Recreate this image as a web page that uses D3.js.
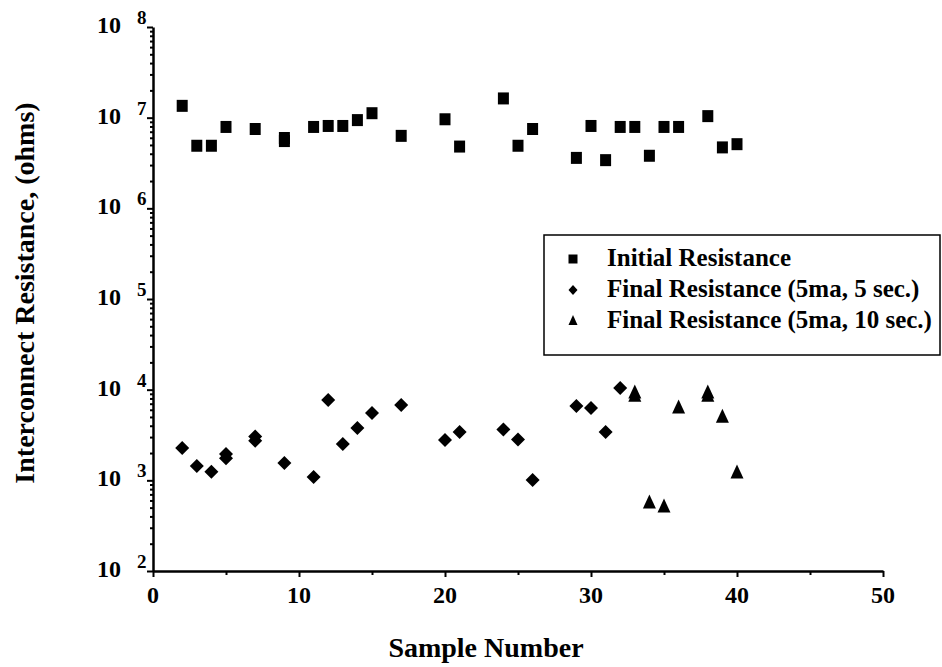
<!DOCTYPE html>
<html>
<head>
<meta charset="utf-8">
<script src="https://cdn.jsdelivr.net/npm/d3@7"></script>
<style>
  body { margin: 0; background: white; }
  text { font-family: "Liberation Serif", "Times New Roman", serif; font-weight: bold; fill: black; }
</style>
</head>
<body>
<div id="canvas"></div>
<script>
// DATA
const initialX = [2, 3, 4, 5, 7, 9, 9, 11, 12, 13, 14, 15, 17, 20, 21, 24, 25, 26, 29, 30, 31, 32, 33, 34, 35, 36, 38, 39, 40];
const initialR = [1.35e7, 4.9e6, 4.9e6, 7.9e6, 7.5e6, 5.97e6, 5.52e6, 7.9e6, 8.1e6, 8.1e6, 9.4e6, 1.12e7, 6.3e6, 9.6e6, 4.8e6, 1.63e7, 4.9e6, 7.5e6, 3.6e6, 8.1e6, 3.4e6, 7.9e6, 7.9e6, 3.8e6, 7.9e6, 7.9e6, 1.04e7, 4.7e6, 5.1e6];

const final5X = [2, 3, 4, 5, 5, 7, 7, 9, 11, 12, 13, 14, 15, 17, 20, 21, 24, 25, 26, 29, 30, 31, 32];
const final5R = [2280, 1440, 1240, 1950, 1750, 3050, 2730, 1550, 1090, 7700, 2520, 3780, 5530, 6780, 2790, 3410, 3640, 2820, 1010, 6610, 6290, 3410, 10400];

const final10X = [33, 33, 34, 35, 36, 38, 38, 39, 40];
const final10R = [9200, 8500, 562, 508, 6290, 9200, 8500, 4990, 1210];

const xTicks = [0, 10, 20, 30, 40, 50];
const xMinorTicks = [5, 15, 25, 35, 45];
const yExponents = [2, 3, 4, 5, 6, 7, 8];
const legendLabels = ["Initial Resistance", "Final Resistance (5ma, 5 sec.)", "Final Resistance (5ma, 10 sec.)"];

// DIMENSIONS
const width = 942;
const height = 667;
const margin = { top: 27, right: 59, bottom: 96, left: 153 };

const svg = d3.select("#canvas")
  .append("svg")
  .attr("width", width)
  .attr("height", height);

// SCALES
const x = d3.scaleLinear().domain([0, 50]).range([margin.left, width - margin.right]);
const y = d3.scaleLog().domain([1e2, 1e8]).range([height - margin.bottom, margin.top]);

// marker shapes
function square(w, h) { return `M${-w/2},${-h/2}h${w}v${h}h${-w}Z`; }
function diamond(w, h) { return `M0,${-h/2}L${w/2},0L0,${h/2}L${-w/2},0Z`; }
function triangle(w, h) { return `M0,${-h*0.6}L${w/2},${h*0.4}L${-w/2},${h*0.4}Z`; }

// AXES
let yMinor = [];
for (let e = 2; e < 8; e++) for (let m = 2; m <= 9; m++) yMinor.push(m * Math.pow(10, e));

svg.append("g")
  .attr("transform", `translate(0,${y(1e2)})`)
  .call(d3.axisBottom(x).tickValues(xTicks).tickSize(6).tickSizeOuter(0).tickFormat(""));
svg.append("g")
  .attr("transform", `translate(0,${y(1e2)})`)
  .call(d3.axisBottom(x).tickValues(xMinorTicks).tickSize(4).tickFormat(""))
  .select(".domain").remove();

svg.append("g")
  .attr("transform", `translate(${x(0)},0)`)
  .call(d3.axisLeft(y).tickValues(yExponents.map(e => Math.pow(10, e))).tickSize(6).tickSizeOuter(0).tickFormat(""));
svg.append("g")
  .attr("transform", `translate(${x(0)},0)`)
  .call(d3.axisLeft(y).tickValues(yMinor).tickSize(3).tickFormat(""))
  .select(".domain").remove();

svg.selectAll(".domain").attr("stroke", "black").attr("stroke-width", 2.5);
svg.selectAll(".tick line").attr("stroke", "black").attr("stroke-width", 2);

// tick labels
svg.selectAll("text.xlabel")
  .data(xTicks)
  .join("text")
  .attr("class", "xlabel")
  .attr("x", d => x(d))
  .attr("y", y(1e2) + 32)
  .attr("text-anchor", "middle")
  .style("font-size", "24px")
  .text(d => d);

const ylab = svg.selectAll("g.ylabel")
  .data(yExponents)
  .join("g")
  .attr("class", "ylabel")
  .attr("transform", d => `translate(0,${y(Math.pow(10, d))})`);
ylab.append("text")
  .attr("x", 121).attr("y", 6)
  .attr("text-anchor", "end")
  .style("font-size", "24px")
  .text("10");
ylab.append("text")
  .attr("x", 137).attr("y", -3)
  .style("font-size", "19px")
  .text(d => d);

// axis titles
svg.append("text")
  .attr("transform", `translate(34,${293}) rotate(-90)`)
  .attr("text-anchor", "middle")
  .style("font-size", "28px")
  .text("Interconnect Resistance, (ohms)");

svg.append("text")
  .attr("x", 486).attr("y", 657)
  .attr("text-anchor", "middle")
  .style("font-size", "28px")
  .text("Sample Number");

// MARKS
const initial = initialX.map((d, i) => ({ x: d, r: initialR[i] }));
const final5 = final5X.map((d, i) => ({ x: d, r: final5R[i] }));
const final10 = final10X.map((d, i) => ({ x: d, r: final10R[i] }));

svg.selectAll("path.initial")
  .data(initial)
  .join("path")
  .attr("class", "initial")
  .attr("d", square(11, 12))
  .attr("transform", d => `translate(${x(d.x)},${y(d.r)})`)
  .style("fill", "black");

svg.selectAll("path.final5")
  .data(final5)
  .join("path")
  .attr("class", "final5")
  .attr("d", diamond(14, 14))
  .attr("transform", d => `translate(${x(d.x)},${y(d.r)})`)
  .style("fill", "black");

svg.selectAll("path.final10")
  .data(final10)
  .join("path")
  .attr("class", "final10")
  .attr("d", triangle(13, 14))
  .attr("transform", d => `translate(${x(d.x)},${y(d.r)})`)
  .style("fill", "black");

// LEGEND
const legend = svg.append("g").attr("transform", "translate(544,235)");
legend.append("rect")
  .attr("width", 396).attr("height", 120)
  .style("fill", "white").style("stroke", "black").style("stroke-width", 1.5);

const legendShapes = [square(9, 9), diamond(9, 10), triangle(9, 10)];
const rows = legend.selectAll("g.row")
  .data(legendLabels)
  .join("g")
  .attr("class", "row")
  .attr("transform", (d, i) => `translate(0,${24 + i * 31})`);
rows.append("path")
  .attr("d", (d, i) => legendShapes[i])
  .attr("transform", "translate(29,0)")
  .style("fill", "black");
rows.append("text")
  .attr("x", 63).attr("y", 7)
  .style("font-size", "25px")
  .text(d => d);
</script>
</body>
</html>
